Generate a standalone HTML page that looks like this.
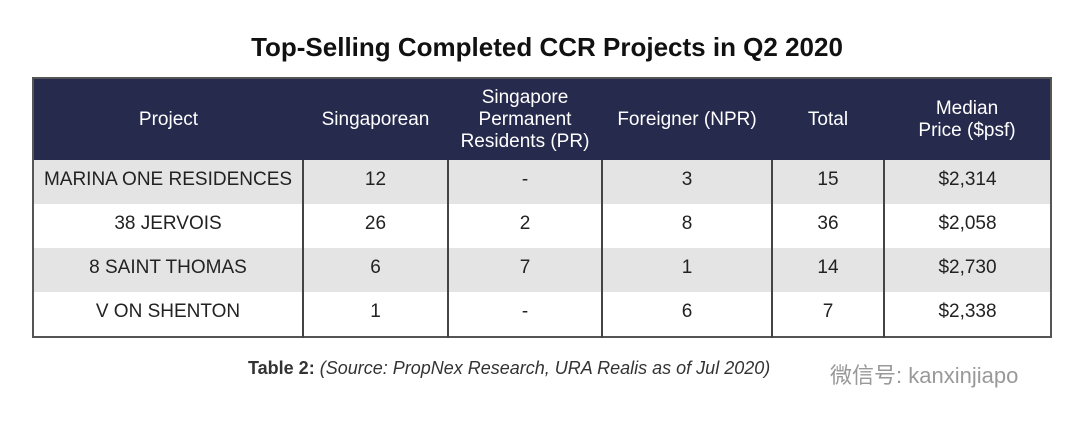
<!DOCTYPE html>
<html><head><meta charset="utf-8"><style>
body{margin:0;width:1080px;height:426px;background:#fff;font-family:"Liberation Sans","Noto Sans CJK SC",sans-serif;position:relative;overflow:hidden}
#title{position:absolute;left:0;width:1094px;top:32px;text-align:center;font-weight:bold;font-size:26px;color:#111}
table{position:absolute;left:32px;top:77px;width:1020px;border-collapse:collapse;border:2px solid #555;table-layout:fixed}
th{background:#262a4d;color:#fff;font-weight:normal;font-size:19px;height:81px;line-height:22px;padding:0}
td{height:40px;line-height:20px;text-align:center;font-size:19px;color:#222;border-left:2px solid #444;padding:0 0 4px 0}
td:first-child{border-left:none}
tr.g td{background:#e4e4e4}
#cap{position:absolute;left:248px;top:358px;font-size:18px;color:#333}
#wm{position:absolute;left:830px;top:358px;font-size:22px;color:#999}
</style></head><body>
<div id="title">Top-Selling Completed CCR Projects in Q2 2020</div>
<table>
<colgroup><col style="width:270px"><col style="width:145px"><col style="width:154px"><col style="width:170px"><col style="width:112px"><col></colgroup>
<tr><th>Project</th><th>Singaporean</th><th>Singapore<br>Permanent<br>Residents (PR)</th><th>Foreigner (NPR)</th><th>Total</th><th>Median<br>Price ($psf)</th></tr>
<tr class="g"><td>MARINA ONE RESIDENCES</td><td>12</td><td>-</td><td>3</td><td>15</td><td>$2,314</td></tr>
<tr><td>38 JERVOIS</td><td>26</td><td>2</td><td>8</td><td>36</td><td>$2,058</td></tr>
<tr class="g"><td>8 SAINT THOMAS</td><td>6</td><td>7</td><td>1</td><td>14</td><td>$2,730</td></tr>
<tr><td>V ON SHENTON</td><td>1</td><td>-</td><td>6</td><td>7</td><td>$2,338</td></tr>
</table>
<div id="cap"><b>Table 2:</b> <i>(Source: PropNex Research, URA Realis as of Jul 2020)</i></div>
<div id="wm">微信号: kanxinjiapo</div>
</body></html>
